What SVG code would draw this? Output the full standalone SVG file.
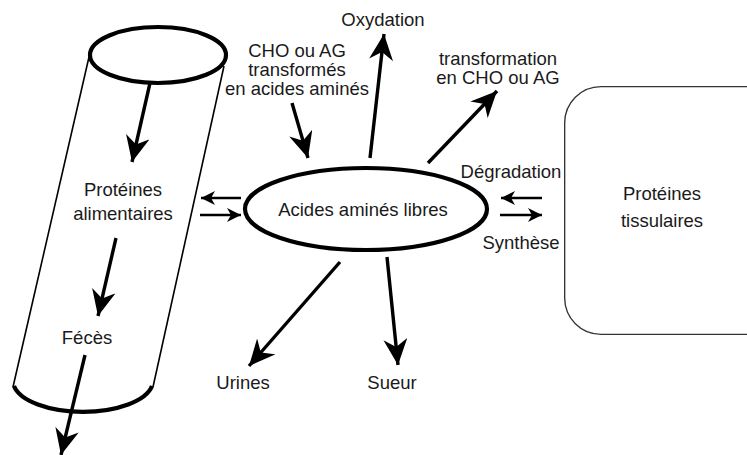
<svg xmlns="http://www.w3.org/2000/svg" width="747" height="455" viewBox="0 0 747 455">
<style>
text{font-family:"Liberation Sans",Arial,sans-serif;font-size:18.5px;fill:#1a1a1a;text-anchor:middle}
.big{stroke:#000;stroke-width:3.4;fill:none;marker-end:url(#ah)}
.small{stroke:#000;stroke-width:2.6;fill:none;marker-end:url(#oh)}
.thin{stroke:#000;stroke-width:1.6;fill:none}
.thick{stroke:#000;stroke-width:4.2;fill:none}
</style>
<defs>
<marker id="ah" markerUnits="userSpaceOnUse" markerWidth="28" markerHeight="24" refX="26" refY="12" orient="auto" viewBox="0 0 28 24">
<path d="M0,0 L26,12 L0,24 L8,12 z" fill="#000"/>
</marker>
<marker id="oh" markerUnits="userSpaceOnUse" markerWidth="16" markerHeight="16" refX="14" refY="8" orient="auto" viewBox="0 0 16 16">
<path d="M0,1 L14,8 L0,15 L4,8 z" fill="#000"/>
</marker>
</defs>
<g id="cylinder">
<ellipse cx="158" cy="55" rx="68" ry="28" class="thick"/>
<line x1="89" y1="57" x2="13" y2="387" class="thin"/>
<line x1="224" y1="66" x2="153" y2="387" class="thin"/>
<path d="M14,386 A70,31 0 0 0 152,386" class="thick"/>
<text x="123" y="196">Protéines</text>
<text x="123" y="220">alimentaires</text>
<text x="87" y="344">Fécès</text>
</g>
<g id="acides">
<ellipse cx="366" cy="209" rx="121" ry="41" class="thick"/>
<text x="363" y="216">Acides aminés libres</text>
</g>
<g id="tissu">
<rect x="566" y="88" width="220" height="245" rx="35" ry="35" fill="#fff" stroke="#333" stroke-width="4"/>
<rect x="566" y="88" width="220" height="245" rx="35" ry="35" fill="#fff" stroke="#fff" stroke-width="1.3"/>
<text x="662" y="200">Protéines</text>
<text x="662" y="227">tissulaires</text>
</g>
<g id="labels">
<text x="383" y="26">Oxydation</text>
<text x="297" y="57">CHO ou AG</text>
<text x="297" y="76">transformés</text>
<text x="297" y="95">en acides aminés</text>
<text x="498" y="65">transformation</text>
<text x="498" y="84">en CHO ou AG</text>
<text x="511" y="178">Dégradation</text>
<text x="521" y="249">Synthèse</text>
<text x="243" y="389">Urines</text>
<text x="392" y="389">Sueur</text>
</g>
<g id="connectors">
<line x1="150" y1="83" x2="132" y2="162" class="big"/>
<line x1="116" y1="238" x2="98" y2="316" class="big"/>
<line x1="85" y1="355" x2="61" y2="455" class="big"/>
<line x1="370" y1="158" x2="384" y2="34" class="big"/>
<line x1="292" y1="103" x2="308" y2="158" class="big"/>
<line x1="428" y1="163" x2="497" y2="91" class="big"/>
<line x1="340" y1="262" x2="249" y2="366" class="big"/>
<line x1="387" y1="257" x2="398" y2="365" class="big"/>
<line x1="241" y1="198" x2="201" y2="198" class="small"/>
<line x1="200" y1="215" x2="241" y2="215" class="small"/>
<line x1="542" y1="198" x2="501" y2="198" class="small"/>
<line x1="500" y1="215" x2="542" y2="215" class="small"/>
</g>
</svg>
